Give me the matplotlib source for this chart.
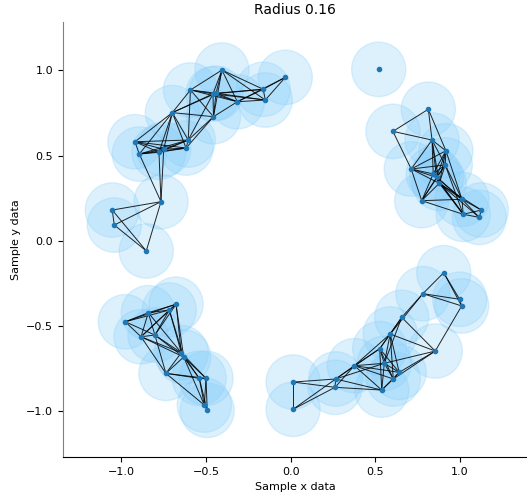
import numpy as np
import matplotlib
matplotlib.use("Agg")
import matplotlib.pyplot as plt
from matplotlib.patches import Circle

radius = 0.16

# sample points
xs = [-0.406, -0.032, -0.162, -0.150, -0.592, -0.459, -0.441, -0.315, -0.456, -0.699,
      -0.920, -0.605, -0.618, -0.894, -0.778, -0.750, -0.766, -1.054, -1.042, -0.853,
      0.520, 0.813, 0.604, 0.835, 0.917, 0.913, 0.712, 0.842, 0.862, 0.878,
      0.774, 1.012, 1.019, 1.126, 1.114,
      -0.677, -0.717, -0.841, -0.977, -0.884, -0.802, -0.646, -0.632, -0.737, -0.540,
      -0.500, -0.510, -0.493,
      0.014, 0.014, 0.266, 0.262, 0.376, 0.526, 0.553, 0.641, 0.606, 0.538,
      0.588, 0.656, 0.854, 0.781, 0.904, 0.998, 1.010]
ys = [1.002, 0.959, 0.889, 0.826, 0.885, 0.862, 0.866, 0.816, 0.728, 0.752,
      0.581, 0.591, 0.544, 0.509, 0.519, 0.537, 0.229, 0.180, 0.092, -0.060,
      1.006, 0.772, 0.642, 0.591, 0.528, 0.445, 0.421, 0.392, 0.372, 0.337,
      0.235, 0.243, 0.155, 0.180, 0.137,
      -0.373, -0.407, -0.423, -0.476, -0.564, -0.554, -0.658, -0.683, -0.779, -0.808,
      -0.808, -0.965, -0.996,
      -0.830, -0.990, -0.812, -0.861, -0.734, -0.634, -0.720, -0.773, -0.812, -0.877,
      -0.548, -0.450, -0.648, -0.311, -0.188, -0.344, -0.383]

pts = np.column_stack([xs, ys])

fig = plt.figure(figsize=(5.27, 4.97), dpi=100)
ax = fig.add_axes([0.1195, 0.0805, 0.8805, 0.8752])

for p in pts:
    ax.add_patch(Circle(p, radius, facecolor="#87CEFA", edgecolor="#87CEFA",
                        alpha=0.28, linewidth=1))

n = len(pts)
for i in range(n):
    for j in range(i + 1, n):
        if np.hypot(*(pts[i] - pts[j])) < 2 * radius:
            ax.plot([pts[i, 0], pts[j, 0]], [pts[i, 1], pts[j, 1]],
                    color="black", linewidth=0.7, alpha=0.85)

ax.scatter(xs, ys, s=9, color="#1f77b4", zorder=3)

ax.set_xlim(-1.345, 1.396)
ax.set_ylim(-1.270, 1.284)
ax.set_xticks([-1.0, -0.5, 0.0, 0.5, 1.0])
ax.set_yticks([-1.0, -0.5, 0.0, 0.5, 1.0])
ax.tick_params(labelsize=8)
ax.spines["top"].set_visible(False)
ax.spines["right"].set_visible(False)
ax.spines["left"].set_color("#808080")
ax.set_xlabel("Sample x data", fontsize=8)
ax.set_ylabel("Sample y data", fontsize=8)
ax.set_title("Radius 0.16", fontsize=10)

fig.savefig("out.png", dpi=100)
